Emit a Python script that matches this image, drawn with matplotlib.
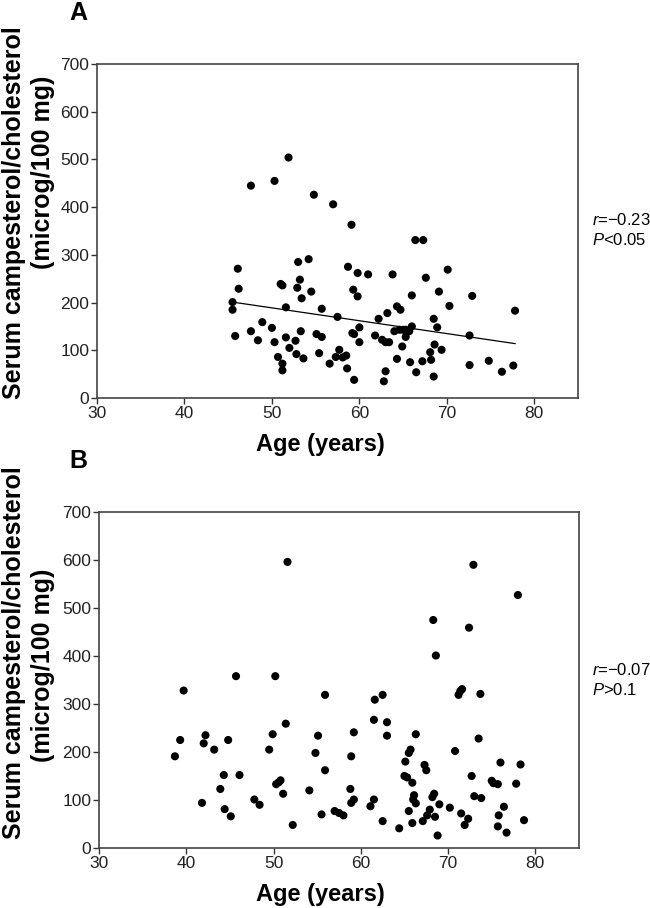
import matplotlib
matplotlib.use("Agg")
import matplotlib.pyplot as plt

plt.rcParams['font.family'] = ['Liberation Sans', 'DejaVu Sans']
plt.rcParams['mathtext.fontset'] = 'custom'
plt.rcParams['mathtext.it'] = 'Liberation Sans:italic'
plt.rcParams['mathtext.rm'] = 'Liberation Sans'

# panel A data (age, campesterol/cholesterol)
age_a = [51.9, 47.6, 50.3, 54.8, 57.0, 59.1,
         46.1, 46.2, 45.5, 45.5, 45.8, 47.6, 48.4, 48.9, 50.0, 50.3, 50.7, 51.2, 51.2, 51.0,
         51.2, 51.6, 51.6, 52.0, 52.7, 52.8, 53.0, 53.2, 52.9, 53.4, 53.3, 53.6, 54.2, 54.5,
         55.1, 55.7, 55.4, 55.7, 56.6, 57.5, 57.7, 57.3, 58.1, 58.5, 58.6, 59.4, 58.7, 59.8,
         59.3, 59.8, 59.2, 59.4, 60.0, 60.0,
         61.0, 61.8, 62.2, 63.8, 63.2, 62.6, 63.0, 63.4, 63.0, 62.8, 64.3, 64.7, 64.0, 64.6,
         65.0, 65.3, 65.7, 66.0, 65.3, 64.9, 64.3, 65.8, 66.5, 66.4, 67.3, 66.0, 67.6, 67.2,
         68.1, 68.2, 68.6, 68.5, 68.5, 68.9, 69.1, 69.4, 70.1, 70.3, 72.6, 72.9, 72.6, 74.8,
         76.3, 77.6, 77.8]
val_a = [504, 445, 455, 426, 406, 363,
         271, 229, 201, 185, 130, 140, 121, 159, 147, 117, 86, 72, 58, 239,
         236, 190, 127, 105, 120, 92, 285, 248, 231, 209, 140, 83, 291, 223,
         134, 128, 94, 187, 72, 170, 101, 86, 85, 89, 62, 38, 275, 262,
         227, 213, 136, 134, 148, 117,
         259, 131, 166, 259, 178, 122, 117, 117, 56, 35, 192, 185, 140, 143,
         143, 143, 140, 150, 128, 108, 82, 75, 54, 331, 331, 215, 252, 77,
         96, 80, 112, 45, 166, 148, 223, 101, 269, 193, 131, 214, 69, 78,
         55, 68, 183]
fit_a_x = [45.5, 77.8]
fit_a_y = [201, 114]

# panel B data
age_b = [51.6, 39.7, 45.7, 50.2, 55.9, 51.4, 49.9, 59.2, 55.1, 54.8, 39.3, 38.7, 42.2, 42.0,
         43.2, 44.8, 49.5, 58.9, 44.3, 46.1, 55.9, 50.3, 50.6, 50.8, 43.9, 51.1, 54.1, 58.8,
         41.8, 44.4, 45.1, 47.8, 48.4, 55.5, 57.0, 57.5, 58.0, 52.2, 58.9, 59.2,
         61.6, 62.5, 61.5, 63.0, 63.0, 66.3, 61.5, 61.1, 62.5, 64.4, 65.1, 65.5, 65.7, 65.0,
         65.3, 65.9, 66.1, 66.0, 66.3, 65.5, 65.9, 67.1, 67.3, 67.5, 68.3, 68.6, 68.4, 68.2,
         67.9, 67.6, 68.5, 69.0, 68.8, 70.2, 70.8, 71.2, 71.4, 71.6, 72.4, 72.9, 73.5, 73.7,
         72.7, 73.0, 73.8, 71.5, 71.9, 72.3, 76.0, 75.0, 75.2, 75.7, 76.4, 75.8, 75.7, 76.7,
         77.8, 78.0, 78.3, 78.7]
val_b = [596, 328, 358, 358, 319, 259, 237, 241, 234, 198, 225, 191, 235, 218,
         205, 225, 205, 191, 152, 152, 162, 133, 137, 141, 123, 113, 120, 123,
         94, 81, 66, 101, 90, 70, 77, 73, 68, 48, 94, 101,
         309, 319, 267, 262, 234, 237, 101, 87, 56, 41, 180, 198, 205, 150,
         147, 136, 110, 101, 93, 77, 52, 56, 173, 162, 475, 401, 113, 106,
         80, 68, 65, 91, 26, 84, 202, 319, 327, 331, 459, 590, 228, 321,
         150, 108, 104, 72, 48, 61, 178, 140, 135, 133, 86, 68, 45, 32,
         134, 527, 174, 58]

stats_a = ['$\\mathit{r}$=\u22120.23', '$\\mathit{P}$<0.05']
stats_b = ['$\\mathit{r}$=\u22120.07', '$\\mathit{P}$>0.1']

W, H = 650, 908
fig = plt.figure(figsize=(W / 100, H / 100), dpi=100)


def px(x, y):
    return x / W, 1 - y / H


def make_panel(left, top, right, bottom, ages, vals, letter, stats, stat_y, lab_y, fit=None):
    ax = fig.add_axes([left / W, 1 - bottom / H, (right - left) / W, (bottom - top) / H])
    ax.scatter(ages, vals, s=34, color='black', edgecolors='none', zorder=3)
    if fit is not None:
        ax.plot(fit[0], fit[1], color='black', lw=0.9, zorder=2)
    ax.set_xlim(30, 85)
    ax.set_ylim(0, 700)
    ax.set_xticks([30, 40, 50, 60, 70, 80])
    ax.set_yticks(range(0, 701, 100))
    ax.tick_params(direction='out', length=4, width=1, color='#333333',
                   labelsize=12.5, pad=1.5, labelcolor='#222222')
    for sp in ax.spines.values():
        sp.set_color('#444444')
        sp.set_linewidth(1.2)
    # labels
    fig.text(*px(320, lab_y), 'Age (years)', ha='center', va='center',
             fontsize=17, fontweight='bold')
    fig.text(*px(78, top - 51), letter, ha='center', va='center',
             fontsize=18, fontweight='bold')
    fig.text(*px(592, stat_y), stats[0], ha='left', va='center', fontsize=12)
    fig.text(*px(592, stat_y + 20), stats[1], ha='left', va='center', fontsize=12)
    return ax


make_panel(97, 64, 578, 398, age_a, val_a, 'A', stats_a, 220, 445, fit=(fit_a_x, fit_a_y))
make_panel(99, 512, 579, 848, age_b, val_b, 'B', stats_b, 670, 895)

# y labels, two lines placed separately as in the original
fig.text(*px(14, 213), 'Serum campesterol/cholesterol', rotation=90,
         ha='center', va='center', fontsize=18, fontweight='bold')
fig.text(*px(43, 172), '(microg/100 mg)', rotation=90,
         ha='center', va='center', fontsize=18, fontweight='bold')
fig.text(*px(14, 653), 'Serum campesterol/cholesterol', rotation=90,
         ha='center', va='center', fontsize=18, fontweight='bold')
fig.text(*px(43, 665), '(microg/100 mg)', rotation=90,
         ha='center', va='center', fontsize=18, fontweight='bold')

fig.savefig('out.png', dpi=100)
